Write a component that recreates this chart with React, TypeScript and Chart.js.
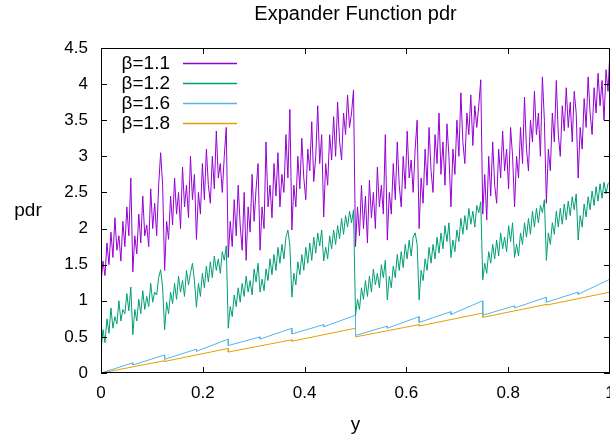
import React, { useEffect, useRef } from "react";
import { Chart, registerables } from "chart.js";

Chart.register(...registerables);

const TITLE = "Expander Function pdr";
const X_TITLE = "y";
const Y_TITLE = "pdr";
const SERIES_LABELS = ["β=1.1", "β=1.2", "β=1.6", "β=1.8"];
const COLORS = ["#9400d3", "#009e73", "#56b4e9", "#e69f00"];
const X_TICKS = [0, 0.2, 0.4, 0.6, 0.8, 1];
const Y_TICKS = [0, 0.5, 1, 1.5, 2, 2.5, 3, 3.5, 4, 4.5];
const SAMPLES_PER_UNIT = 256;

// β=1.1, sampled every 1/256 of y, one array per quarter of the y range
const b11Q1 = [
  1.25, 1.55, 1.35, 1.8, 1.5, 1.95, 1.6, 2.15, 1.7, 1.9, 1.55, 2.1, 1.75, 2.3, 1.9, 2.7,
  1.4, 1.9, 1.65, 2.2, 1.8, 2.45, 1.9, 2.05, 1.75, 2.55, 2.0, 2.35, 1.9, 2.6, 3.05, 2.6,
  1.42, 2.1, 1.85, 2.45, 2.05, 2.7, 2.2, 2.5, 2.0, 2.85, 2.3, 2.6, 2.15, 3.0, 2.4, 2.75,
  1.85, 2.5, 2.2, 2.9, 2.4, 3.1, 2.6, 2.35, 3.0, 2.55, 3.35, 2.7, 2.9, 2.5, 3.0, 3.4,
];
const b11Q2 = [
  1.6, 2.1, 1.75, 2.4, 1.9, 2.6, 2.05, 1.7, 2.5, 1.56, 2.3, 1.95, 2.75, 2.1, 2.55, 2.9,
  1.7, 2.3, 2.0, 3.2, 2.3, 2.6, 2.15, 2.9, 2.45, 3.05, 2.3, 2.75, 2.5, 3.3, 2.7, 3.65,
  1.98, 2.6, 2.3, 3.0, 2.55, 3.25, 2.7, 2.4, 3.1, 2.8, 3.48, 2.65, 3.0, 3.7, 2.9, 3.3,
  2.16, 2.9, 2.6, 3.3, 2.95, 3.55, 3.0, 3.75, 3.2, 2.95, 3.6, 3.3, 3.85, 3.4, 3.6, 3.92,
];
const b11Q3 = [
  1.75, 2.3, 1.9, 2.6, 2.0, 2.45, 1.8, 2.67, 2.15, 2.5, 2.0, 2.85, 2.3, 2.6, 2.2, 3.3,
  1.84, 2.5, 2.2, 2.9, 2.4, 3.2, 2.6, 2.3, 3.0, 2.55, 3.35, 2.7, 2.95, 2.5, 3.1, 3.5,
  2.0, 2.7, 2.35, 3.1, 2.6, 3.4, 2.8, 2.5, 3.3, 2.9, 3.6, 2.75, 3.2, 2.6, 3.45, 3.0,
  2.3, 3.1, 2.75, 3.5, 3.0, 3.88, 3.2, 2.9, 3.6, 3.3, 3.85, 3.15, 3.7, 3.4, 3.7, 4.06,
];
const b11Q4 = [
  2.2, 2.75, 2.12, 3.0, 2.45, 3.2, 2.6, 2.35, 3.1, 2.7, 3.35, 2.8, 3.1, 2.55, 3.4, 3.0,
  2.3, 3.0, 2.7, 3.4, 2.9, 3.82, 3.1, 2.8, 3.5, 3.2, 3.9, 3.3, 3.6, 3.0, 4.1, 3.5,
  2.35, 3.1, 2.8, 3.6, 3.2, 4.05, 3.3, 3.0, 3.7, 3.35, 3.95, 3.4, 3.75, 3.2, 3.9, 3.6,
  2.7, 3.4, 3.1, 3.8, 3.4, 4.1, 3.6, 3.3, 3.95, 3.6, 4.15, 3.7, 4.05, 3.5, 4.2, 3.9,
  4.47,
];

// β=1.2, same sampling
const b12Q1 = [
  0.3, 0.6, 0.42, 0.75, 0.55, 0.9, 0.62, 0.78, 0.68, 1.0, 0.72, 0.88, 0.82, 1.1, 0.86, 1.19,
  0.53, 0.88, 0.72, 1.02, 0.82, 1.14, 0.88, 1.06, 0.92, 1.24, 0.98, 1.12, 1.08, 1.32, 1.43, 1.18,
  0.6, 0.98, 0.82, 1.12, 0.96, 1.24, 1.02, 1.34, 1.12, 1.28, 1.06, 1.42, 1.22, 1.38, 1.52, 1.28,
  0.91, 1.24, 1.06, 1.38, 1.18, 1.48, 1.26, 1.54, 1.32, 1.62, 1.42, 1.58, 1.38, 1.68, 1.56, 1.76,
];
const b12Q2 = [
  0.62, 0.92, 0.78, 1.08, 0.92, 1.18, 0.98, 1.24, 1.06, 1.34, 1.12, 1.28, 1.08, 1.44, 1.26, 1.52,
  1.12, 1.3, 1.14, 1.44, 1.28, 1.58, 1.36, 1.64, 1.42, 1.74, 1.52, 1.78, 1.58, 1.88, 1.98, 1.76,
  1.05, 1.38, 1.22, 1.54, 1.36, 1.64, 1.42, 1.74, 1.52, 1.8, 1.56, 1.88, 1.66, 1.94, 1.76, 1.98,
  1.55, 1.74, 1.58, 1.9, 1.72, 1.98, 1.78, 2.04, 1.86, 2.14, 1.92, 2.18, 2.02, 2.24, 2.08, 2.26,
];
const b12Q3 = [
  0.8, 1.02, 0.88, 1.18, 1.02, 1.28, 1.06, 1.34, 1.12, 1.44, 1.22, 1.38, 1.18, 1.5, 1.32, 1.56,
  1.01, 1.34, 1.18, 1.48, 1.32, 1.64, 1.42, 1.68, 1.46, 1.78, 1.58, 1.84, 1.62, 1.88, 1.94, 1.78,
  1.01, 1.42, 1.28, 1.58, 1.42, 1.74, 1.52, 1.78, 1.58, 1.88, 1.66, 1.94, 1.72, 2.04, 1.82, 2.08,
  1.6, 1.84, 1.68, 1.98, 1.82, 2.14, 1.92, 2.18, 1.98, 2.28, 2.06, 2.24, 2.02, 2.32, 2.22, 2.37,
];
const b12Q4 = [
  1.29, 1.52, 1.38, 1.68, 1.52, 1.78, 1.58, 1.84, 1.62, 1.94, 1.72, 1.88, 1.68, 2.04, 1.82, 2.08,
  1.6, 1.78, 1.62, 1.94, 1.78, 2.08, 1.88, 2.14, 1.92, 2.24, 2.02, 2.28, 2.08, 2.32, 2.22, 2.4,
  1.56, 1.94, 1.78, 2.08, 1.92, 2.24, 2.02, 2.28, 2.06, 2.34, 2.12, 2.38, 2.18, 2.44, 2.26, 2.48,
  1.84, 2.18, 2.02, 2.34, 2.16, 2.44, 2.26, 2.52, 2.32, 2.58, 2.38, 2.62, 2.42, 2.64, 2.48, 2.62,
  2.65,
];

// β=1.6: sawtooth, value just before and just after each drop
const b16Breaks = [0.0625, 0.125, 0.1875, 0.25, 0.3125, 0.375, 0.4375, 0.5, 0.5625, 0.625, 0.6875, 0.75, 0.8125, 0.875, 0.9375];
const b16Before = [0.14, 0.25, 0.33, 0.47, 0.5, 0.62, 0.67, 0.8, 0.65, 0.78, 0.85, 1.0, 0.93, 1.05, 1.12];
const b16After = [0.11, 0.19, 0.3, 0.38, 0.47, 0.54, 0.64, 0.52, 0.62, 0.7, 0.81, 0.8, 0.9, 0.98, 1.09];
const b16Start = 0;
const b16End = 1.3;

// β=1.8: nearly linear, small drops
const b18Breaks = [0.125, 0.25, 0.375, 0.5, 0.625, 0.75, 0.875];
const b18Before = [0.17, 0.34, 0.46, 0.62, 0.67, 0.83, 0.95];
const b18After = [0.16, 0.29, 0.44, 0.5, 0.65, 0.77, 0.94];
const b18Start = 0;
const b18End = 1.12;

function sampled(values: number[]) {
  return values.map((v, k) => ({ x: k / SAMPLES_PER_UNIT, y: v }));
}

function sawtooth(start: number, breaks: number[], before: number[], after: number[], end: number) {
  const pts = [{ x: 0, y: start }];
  breaks.forEach((b, i) => {
    pts.push({ x: b, y: before[i] });
    pts.push({ x: b, y: after[i] });
  });
  pts.push({ x: 1, y: end });
  return pts;
}

const FONT_FAMILY = "'Liberation Sans', Arial, sans-serif";
const TICK_SIZE = 17;
const TEXT_SIZE = 19;
const TITLE_SIZE = 20;

const overlayPlugin = {
  id: "gnuplotOverlay",
  afterDatasetsDraw(chart: any) {
    const { ctx, chartArea: a, scales } = chart;
    const xs = scales.x;
    const ys = scales.y;
    ctx.save();
    ctx.strokeStyle = "#000";
    ctx.lineWidth = 1;
    ctx.strokeRect(a.left + 0.5, a.top + 0.5, a.right - a.left - 1, a.bottom - a.top - 1);
    ctx.beginPath();
    const tl = 6;
    for (const v of X_TICKS) {
      const px = Math.min(Math.round(xs.getPixelForValue(v)), a.right - 1) + 0.5;
      ctx.moveTo(px, a.bottom);
      ctx.lineTo(px, a.bottom - tl);
      ctx.moveTo(px, a.top);
      ctx.lineTo(px, a.top + tl);
    }
    for (const v of Y_TICKS) {
      const py = Math.round(ys.getPixelForValue(v)) + 0.5;
      ctx.moveTo(a.left, py);
      ctx.lineTo(a.left + tl, py);
      ctx.moveTo(a.right, py);
      ctx.lineTo(a.right - tl, py);
    }
    ctx.stroke();

    // legend (gnuplot style: right-aligned text, then sample line)
    ctx.font = `${TEXT_SIZE}px ${FONT_FAMILY}`;
    ctx.textBaseline = "middle";
    ctx.textAlign = "right";
    SERIES_LABELS.forEach((lab, i) => {
      const yy = Math.round(a.top + 15 + i * 20);
      ctx.fillStyle = "#000";
      ctx.fillText(lab, a.left + 69, yy + 1);
    });
    SERIES_LABELS.forEach((_lab, i) => {
      const yy = Math.round(a.top + 15 + i * 20);
      ctx.beginPath();
      ctx.lineWidth = 1.5;
      ctx.strokeStyle = COLORS[i];
      ctx.moveTo(a.left + 82, yy + 0.5);
      ctx.lineTo(a.left + 136, yy + 0.5);
      ctx.stroke();
    });

    // titles
    ctx.fillStyle = "#000";
    ctx.textAlign = "center";
    ctx.fillText(Y_TITLE, 28, (a.top + a.bottom) / 2);
    ctx.fillText(X_TITLE, (a.left + a.right) / 2, 425);
    ctx.font = `${TITLE_SIZE}px ${FONT_FAMILY}`;
    ctx.fillText(TITLE, (a.left + a.right) / 2, 14);
    ctx.restore();
  },
};

export default function App() {
  const canvasRef = useRef<HTMLCanvasElement | null>(null);

  useEffect(() => {
    document.body.style.margin = "0";
    const canvas = canvasRef.current;
    if (!canvas) return;
    const tickFont = { family: FONT_FAMILY, size: TICK_SIZE };
    const chart = new Chart(canvas, {
      type: "line",
      data: {
        datasets: [
          { label: SERIES_LABELS[0], data: sampled([...b11Q1, ...b11Q2, ...b11Q3, ...b11Q4]), borderColor: COLORS[0] },
          { label: SERIES_LABELS[1], data: sampled([...b12Q1, ...b12Q2, ...b12Q3, ...b12Q4]), borderColor: COLORS[1] },
          { label: SERIES_LABELS[2], data: sawtooth(b16Start, b16Breaks, b16Before, b16After, b16End), borderColor: COLORS[2] },
          { label: SERIES_LABELS[3], data: sawtooth(b18Start, b18Breaks, b18Before, b18After, b18End), borderColor: COLORS[3] },
        ],
      },
      options: {
        animation: false,
        responsive: false,
        maintainAspectRatio: false,
        layout: { padding: { top: 48, right: 0, left: 0, bottom: 0 }, autoPadding: false },
        plugins: { legend: { display: false }, title: { display: false }, tooltip: { enabled: false } },
        elements: { point: { radius: 0 }, line: { tension: 0, borderWidth: 1 } },
        scales: {
          x: {
            type: "linear",
            min: 0,
            max: 1,
            afterFit: (s: any) => {
              s.height = 64;
              s.paddingLeft = 0;
              s.paddingRight = 0;
              s.paddingTop = 0;
              s.paddingBottom = 0;
            },
            afterBuildTicks: (s: any) => { s.ticks = X_TICKS.map((v) => ({ value: v })); },
            grid: { display: false, drawTicks: false },
            border: { display: false },
            ticks: { padding: 10, font: tickFont, color: "#000", maxRotation: 0, autoSkip: false, callback: (v: any) => String(v) },
          },
          y: {
            type: "linear",
            min: 0,
            max: 4.5,
            afterFit: (s: any) => {
              s.width = 101;
              s.paddingLeft = 0;
              s.paddingRight = 0;
              s.paddingTop = 0;
              s.paddingBottom = 0;
            },
            afterBuildTicks: (s: any) => { s.ticks = Y_TICKS.map((v) => ({ value: v })); },
            grid: { display: false, drawTicks: false },
            border: { display: false },
            ticks: { padding: 13, font: tickFont, color: "#000", autoSkip: false, callback: (v: any) => String(v) },
          },
        },
      },
      plugins: [overlayPlugin],
    } as any);
    return () => chart.destroy();
  }, []);

  return (
    <div style={{ position: "fixed", left: 0, top: 0, width: 610, height: 437, background: "#fff" }}>
      <canvas ref={canvasRef} width={610} height={437} style={{ width: 610, height: 437 }} />
    </div>
  );
}
